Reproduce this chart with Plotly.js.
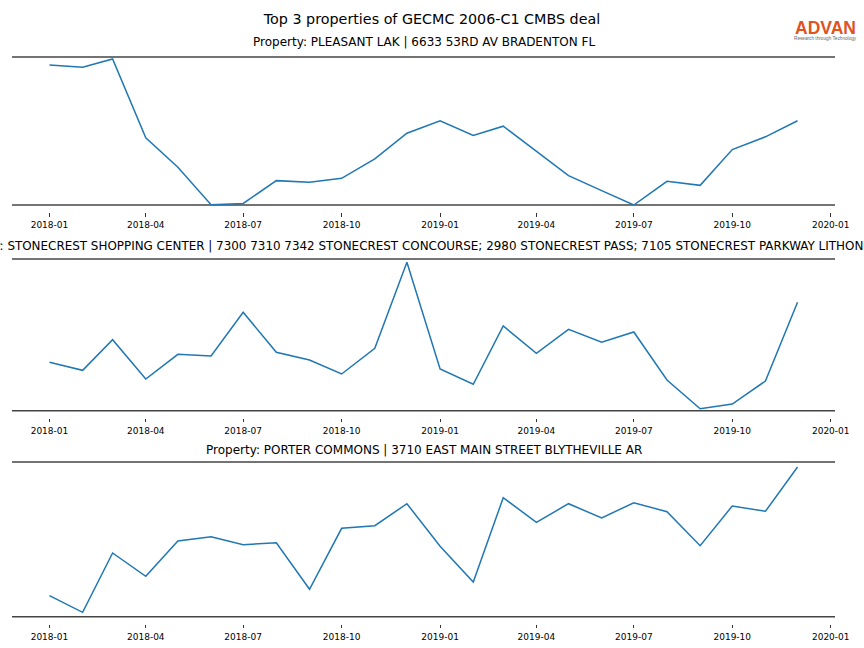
<!DOCTYPE html>
<html>
<head>
<meta charset="utf-8">
<script src="https://cdn.plot.ly/plotly-3.0.1.min.js"></script>
<style>html,body{margin:0;padding:0;background:#fff;}#chart{width:864px;height:648px;}</style>
</head>
<body>
<div id="chart"></div>
<script>
const months = ["2018-01-01","2018-02-01","2018-03-01","2018-04-01","2018-05-01","2018-06-01",
  "2018-07-01","2018-08-01","2018-09-01","2018-10-01","2018-11-01","2018-12-01",
  "2019-01-01","2019-02-01","2019-03-01","2019-04-01","2019-05-01","2019-06-01",
  "2019-07-01","2019-08-01","2019-09-01","2019-10-01","2019-11-01","2019-12-01"];

const pleasantLak = [139.6,137.3,145.6,67,37.6,0.3,1.6,24.3,22.6,26.6,46,71.6,
  84,69.3,78.6,54,29.3,14.3,0,23.6,19.6,55.3,68,84];
const stonecrest = [48.4,40.4,71,31.7,56.4,54.7,98.4,58.4,50.7,36.7,62.4,148.4,
  41.7,26.4,84.7,57.4,81.4,68.4,78.7,30.7,2,6.7,29.7,108.4];
const porterCommons = [21,4.4,63.7,40.4,75.7,80,72,74,27.4,88.4,91,113,
  70.4,34.7,119,94.4,113,98.7,114,105,71,110.7,105.4,149.7];

const titles = [
  "Property: PLEASANT LAK | 6633 53RD AV BRADENTON FL",
  "Property: STONECREST SHOPPING CENTER | 7300 7310 7342 STONECREST CONCOURSE; 2980 STONECREST PASS; 7105 STONECREST PARKWAY LITHONIA GA",
  "Property: PORTER COMMONS | 3710 EAST MAIN STREET BLYTHEVILLE AR"
];
const mainTitle = "Top 3 properties of GECMC 2006-C1 CMBS deal";
const logoName = "ADVAN";
const logoTagline = "Research through Technology";
const series = [pleasantLak, stonecrest, porterCommons];
const yTops = [147.6, 151.7, 154.7];

const H = 648;
const domains = [[(H-205)/H,(H-57)/H],[(H-410.7)/H,(H-259)/H],[(H-616.7)/H,(H-462)/H]];
const titleY = [(H-42)/H, (H-246)/H, (H-450)/H];
const titleSizes = [12, 11.93, 12];
const font = "DejaVu Sans, sans-serif";

const data = series.map((s,i)=>({
  x: months, y: s, type:'scatter', mode:'lines',
  line:{color:'#1f77b4', width:1.5},
  xaxis: i===0?'x':'x'+(i+1), yaxis: i===0?'y':'y'+(i+1),
  hoverinfo:'skip', showlegend:false
}));

const layout = {
  width:864, height:648,
  margin:{l:12, r:29, t:0, b:0},
  paper_bgcolor:'#fff', plot_bgcolor:'rgba(0,0,0,0)',
  font:{family:font, color:'#000'},
  title:{text:mainTitle, x:0.5, xref:'container', y:1-19/648, yref:'container',
         yanchor:'middle', xanchor:'center', font:{size:14.3, family:font, color:'#000'}},
  annotations:[], shapes:[],
  showlegend:false
};

for (let i=0;i<3;i++){
  const xk = i===0?'xaxis':'xaxis'+(i+1);
  const yk = i===0?'yaxis':'yaxis'+(i+1);
  const yname = i===0?'y':'y'+(i+1);
  layout[xk] = {
    type:'date', range:['2017-11-27','2020-01-05'],
    domain:[0,1], anchor:'free', position: domains[i][0] - 7/H,
    showline:false, showgrid:false, zeroline:false,
    ticks:'outside', ticklen:3.5, tickwidth:0.8, tickcolor:'#000',
    tick0:'2018-01-01', dtick:'M3', tickformat:'%Y-%m',
    ticklabelstandoff:1,
    tickfont:{size:9, family:font, color:'#000'}
  };
  layout[yk] = {
    domain:domains[i], anchor: i===0?'x':'x'+(i+1),
    range:[0, yTops[i]], showline:false, showgrid:false, zeroline:false,
    showticklabels:false, ticks:''
  };
  [0,1].forEach(v=>layout.shapes.push({
    type:'line', xref:'paper', yref: yname+' domain', x0:0, x1:1, y0:v, y1:v,
    line:{color:'#444', width:1.6}, layer:'below'
  }));
  layout.annotations.push({
    text:titles[i], xref:'paper', yref:'paper', x:0.5, y:titleY[i],
    xanchor:'center', yanchor:'middle', showarrow:false,
    font:{size:titleSizes[i], family:font, color:'#000'}
  });
}

// logo
const logoX = (825.5-12)/823;
layout.annotations.push({
  text:'<b>'+logoName+'</b>', xref:'paper', yref:'paper', x:logoX, y:1-27.5/648,
  xanchor:'center', yanchor:'middle', showarrow:false, borderpad:0,
  font:{size:17.5, family:'Liberation Sans, Arial, sans-serif', color:'#e0531f'}
});
layout.annotations.push({
  text:logoTagline, xref:'paper', yref:'paper', x:logoX, y:1-35.5/648,
  xanchor:'center', yanchor:'top', showarrow:false, borderpad:0,
  font:{size:4.7, family:'Liberation Sans, Arial, sans-serif', color:'#666'}
});

Plotly.newPlot('chart', data, layout, {staticPlot:true, displayModeBar:false});
</script>
</body>
</html>
